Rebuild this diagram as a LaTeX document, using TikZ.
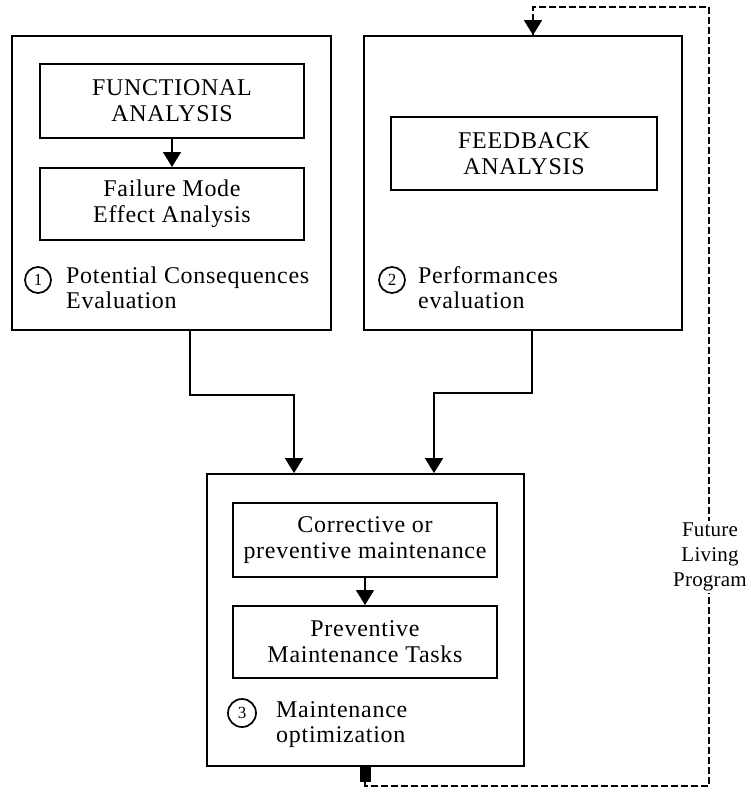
\documentclass[tikz,border=0pt]{standalone}
\usepackage{fontspec}
\setmainfont{Liberation Serif}[LetterSpace=3]
\usetikzlibrary{positioning,arrows.meta}

\tikzset{
  stage/.style = {draw, line width=1.8pt},
  task/.style = {draw, line width=2pt, minimum width=264pt, align=center,
    font=\fontsize{24}{26}\selectfont},
  num/.style = {draw, circle, line width=1.7pt, minimum size=26pt, inner sep=0pt,
    font=\fontsize{17}{17}\selectfont},
  lbl/.style = {anchor=west, align=left, inner sep=0pt, font=\fontsize{24}{25}\selectfont},
  flow/.style = {line width=1.6pt, -{Triangle[width=18pt,length=15pt]}},
  feedback/.style = {line width=1.5pt, dash pattern=on 7pt off 3pt}
}

\begin{document}
\begin{tikzpicture}[x=1pt, y=-1pt]
\useasboundingbox (0,0) rectangle (751,795);

% stage 1
\node[stage, minimum width=319pt, minimum height=294pt] (conseq) at (171.5,183) {};
\node[task, minimum height=74pt] (func) at (172,101) {FUNCTIONAL\\ANALYSIS};
\node[task, minimum height=72pt] (fmea) at (172,204) {Failure Mode\\Effect Analysis};
\node[num] (n1) at (38,280) {1};
\node[lbl] (conseqtxt) at (66,288) {Potential Consequences\\Evaluation};
\draw[flow] (func) -- (fmea);

% stage 2
\node[stage, minimum width=318pt, minimum height=294pt] (perf) at (523,183) {};
\node[task, minimum width=266pt, minimum height=73pt] (fback) at (524,153.5) {FEEDBACK\\ANALYSIS};
\node[num] (n2) at (392,280) {2};
\node[lbl] (perftxt) at (418,288) {Performances\\evaluation};

% stage 3
\node[stage, minimum width=317pt, minimum height=292pt] (optim) at (365.5,620) {};
\node[task, minimum height=74pt] (corr) at (365,540) {Corrective or\\preventive maintenance};
\node[task, minimum height=72pt] (pmt) at (365,642) {Preventive\\Maintenance Tasks};
\node[num, minimum size=28pt] (n3) at (242,713) {3};
\node[lbl] (optimtxt) at (276,725) {Maintenance\\optimization};
\draw[flow] (corr) -- (pmt);

% links between stages
\draw[flow] ([xshift=18.5pt]conseq.south) -- ++(0,64) -| ([xshift=-71.5pt]optim.north);
\draw[flow] ([xshift=9pt]perf.south) -- ++(0,62) -| ([xshift=68.5pt]optim.north);

% living program loop
\node[fill=black, minimum width=11pt, minimum height=15pt, inner sep=0pt] (plug) at (365,774) {};
\coordinate (loopbot) at (709,786);
\coordinate (looptop) at (709,7);
\draw[feedback] (plug.south) |- (loopbot) -- (looptop) -| ([xshift=10pt]perf.north);
\draw[flow] ([xshift=10pt,yshift=16pt]perf.north) -- ([xshift=10pt]perf.north);
\node[fill=white, align=center, inner sep=2pt, font=\fontsize{21}{25}\selectfont\addfontfeature{LetterSpace=1}] (future) at (710,557) {Future\\Living\\Program};
\end{tikzpicture}
\end{document}
